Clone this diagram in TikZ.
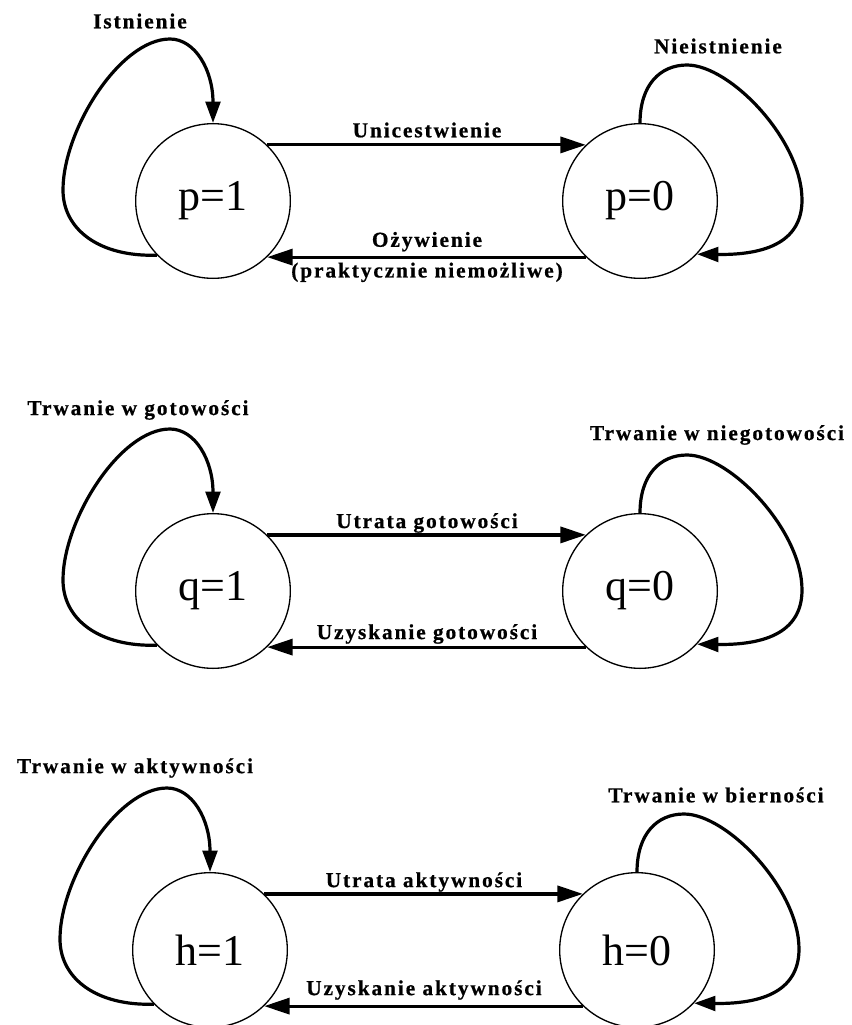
\documentclass[tikz,border=0pt]{standalone}
\usepackage{fontspec}
\setmainfont{Liberation Serif}
\newfontfamily\lblfamily[LetterSpace=9,BoldFeatures={FakeBold=0.7}]{Liberation Serif}
\usetikzlibrary{arrows.meta}
\begin{document}
\begin{tikzpicture}[x=0.75pt,y=0.75pt,
  state/.style={circle,draw,line width=1pt,minimum size=116pt,inner sep=0pt,font=\fontsize{33}{36}\selectfont},
  lbl/.style={font=\lblfamily\bfseries\fontsize{16}{19}\selectfont,inner sep=0pt,align=center},
  tr/.style={line width=2.4pt,-{Triangle[length=19pt,width=12pt]}},
  selfloop/.style={line width=2.4pt,-{Triangle[length=16pt,width=11pt]}}]
\useasboundingbox (0,0) rectangle (851,-1025);

% ---- group 1 ----
\node[state] (p1) at (213,-201) {p=1};
\node[state] (p0) at (640,-201) {p=0};
\draw[tr] (p1.46) -- (p0.134);
\draw[tr] (p0.-134) -- (p1.-46);
\node[lbl] (lu) at (427,-130) {Unicestwienie};
\node[lbl] (lo) at (427,-257) {Ożywienie\\[4pt](praktycznie niemożliwe)};
\draw[selfloop] (p1.224) .. controls (100,-257) and (63,-230) .. (63,-190)
  .. controls (63,-130) and (120,-39) .. (170,-39)
  .. controls (195,-39) and (213,-70) .. (p1.90);
\draw[selfloop] (p0.90) .. controls (640,-85) and (660,-65) .. (687,-65)
  .. controls (730,-65) and (802,-140) .. (802,-200)
  .. controls (802,-245) and (760,-255) .. (p0.-43);
\node[lbl] (li) at (140,-21) {Istnienie};
\node[lbl] (ln) at (718,-46) {Nieistnienie};

% ---- group 2 ----
\begin{scope}[shift={(0,-390)}]
\node[state] (q1) at (213,-201) {q=1};
\node[state] (q0) at (640,-201) {q=0};
\draw[tr] (q1.46) -- (q0.134);
\draw[tr] (q0.-134) -- (q1.-46);
\node[lbl] (lug) at (427,-133) {Utrata gotowości};
\node[lbl] (lzg) at (427,-244) {Uzyskanie gotowości};
\draw[selfloop] (q1.224) .. controls (100,-257) and (63,-230) .. (63,-190)
  .. controls (63,-130) and (120,-39) .. (170,-39)
  .. controls (195,-39) and (213,-70) .. (q1.90);
\draw[selfloop] (q0.90) .. controls (640,-85) and (660,-65) .. (687,-65)
  .. controls (730,-65) and (802,-140) .. (802,-200)
  .. controls (802,-245) and (760,-255) .. (q0.-43);
\node[lbl] (ltg) at (138,-20) {Trwanie w gotowości};
\node[lbl] (ltn) at (717,-45) {Trwanie w niegotowości};
\end{scope}

% ---- group 3 ----
\begin{scope}[shift={(-3,-749)}]
\node[state] (h1) at (213,-201) {h=1};
\node[state] (h0) at (640,-201) {h=0};
\draw[tr] (h1.46) -- (h0.134);
\draw[tr] (h0.-134) -- (h1.-46);
\node[lbl] (lua) at (427,-133) {Utrata aktywności};
\node[lbl] (lza) at (427,-241) {Uzyskanie aktywności};
\draw[selfloop] (h1.224) .. controls (100,-257) and (63,-230) .. (63,-190)
  .. controls (63,-130) and (120,-39) .. (170,-39)
  .. controls (195,-39) and (213,-70) .. (h1.90);
\draw[selfloop] (h0.90) .. controls (640,-85) and (660,-65) .. (687,-65)
  .. controls (730,-65) and (802,-140) .. (802,-200)
  .. controls (802,-245) and (760,-255) .. (h0.-43);
\node[lbl] (lta) at (138,-19) {Trwanie w aktywności};
\node[lbl] (ltb) at (719,-46) {Trwanie w bierności};
\end{scope}
\end{tikzpicture}
\end{document}
